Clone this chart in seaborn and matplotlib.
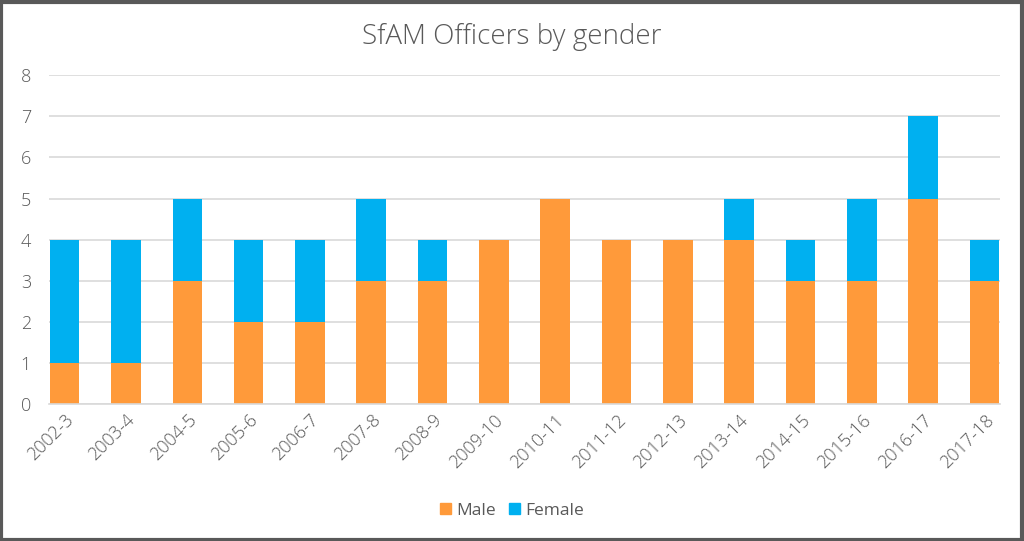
import pandas as pd
import seaborn as sns
import matplotlib.pyplot as plt
from matplotlib.patches import Patch, Rectangle

years = ["2002-3", "2003-4", "2004-5", "2005-6", "2006-7", "2007-8", "2008-9", "2009-10",
         "2010-11", "2011-12", "2012-13", "2013-14", "2014-15", "2015-16", "2016-17", "2017-18"]
male = [1, 1, 3, 2, 2, 3, 3, 4, 5, 4, 4, 4, 3, 3, 5, 3]
female = [3, 3, 2, 2, 2, 2, 1, 0, 0, 0, 0, 1, 1, 2, 2, 1]

orange = "#FF9A3A"
blue = "#00B0F0"
grey_text = "#595959"

df = pd.DataFrame({"year": years, "Male": male, "Female": female})
df["total"] = df["Male"] + df["Female"]

sns.set_style("white")
plt.rcParams['font.family'] = ['Open Sans', 'DejaVu Sans']

fig = plt.figure(figsize=(10.24, 5.41), dpi=100)
ax = fig.add_axes([0.0479, 0.253, 0.9287, 0.608])

# stacked: total in blue, male drawn over it in orange
sns.barplot(data=df, x="year", y="total", color=blue, width=0.48, ax=ax,
            saturation=1, linewidth=0, zorder=3)
sns.barplot(data=df, x="year", y="Male", color=orange, width=0.48, ax=ax,
            saturation=1, linewidth=0, zorder=4)

ax.set_ylim(0, 8)
ax.set_yticks(range(0, 9))
ax.set_xlim(-0.253, len(years) - 1 + 0.253)
ax.yaxis.grid(True, color="#D9D9D9", linewidth=1.2, zorder=0)
ax.set_axisbelow(True)
for s in ["top", "right", "left"]:
    ax.spines[s].set_visible(False)
ax.spines["bottom"].set_color("#D9D9D9")
ax.spines["bottom"].set_linewidth(1.2)
ax.spines["bottom"].set_zorder(5)
ax.set_xlabel("")
ax.set_ylabel("")
ax.tick_params(axis="y", length=0, labelsize=13, colors=grey_text, pad=13)
ax.tick_params(axis="x", length=0, labelsize=13, colors=grey_text, pad=5)
plt.setp(ax.get_xticklabels(), rotation=45, ha="right", rotation_mode="anchor")
for t in ax.get_xticklabels() + ax.get_yticklabels():
    t.set_fontweight("light")

fig.text(0.5, 0.932, "SfAM Officers by gender", ha="center", va="center",
         fontsize=20, color=grey_text, fontweight="light")

handles = [Patch(color=orange, label="Male"), Patch(color=blue, label="Female")]
fig.legend(handles=handles, loc="center", bbox_to_anchor=(0.5, 0.056), ncol=2, frameon=False,
           fontsize=12.5, labelcolor=grey_text, handlelength=0.6, handleheight=0.6,
           handletextpad=0.3, columnspacing=0.8)

fig.add_artist(Rectangle((0.001, 0.002), 0.997, 0.995, transform=fig.transFigure,
                         fill=False, edgecolor="#595959", linewidth=3))

fig.savefig("out.png", dpi=100)
